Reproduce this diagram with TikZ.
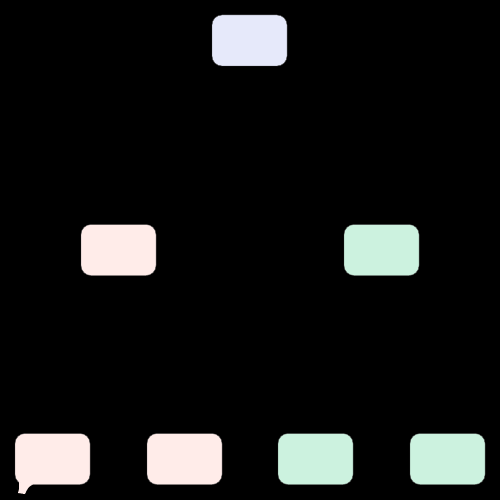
\documentclass[tikz,border=0pt]{standalone}
\definecolor{rootfill}{RGB}{230,233,250}
\definecolor{pinkfill}{RGB}{255,236,233}
\definecolor{greenfill}{RGB}{204,242,223}
\begin{document}
\begin{tikzpicture}[x=1pt,y=-1pt,
  box/.style={rounded corners=10pt, minimum width=75pt, minimum height=51pt, inner sep=0pt, draw=black!70, line width=0.4pt},
  rootc/.style={box, fill=rootfill},
  pinkc/.style={box, fill=pinkfill},
  greenc/.style={box, fill=greenfill}]
\fill[black] (0,0) rectangle (500,500);
\useasboundingbox (0,0) rectangle (500,500);
\node[rootc] (root) at (249.5,40.5) {};
\node[pinkc] (ml) at (118.5,250) {};
\node[greenc] (mr) at (381.5,250) {};
\node[pinkc] (b1) at (52.5,459) {};
\node[pinkc] (b2) at (184.5,459) {};
\node[greenc] (b3) at (315.5,459) {};
\node[greenc] (b4) at (447.5,459) {};
\fill[pinkfill] (19,482) -- (19,489) .. controls (18,491) .. (18,493) -- (25,494) .. controls (27,489) and (29,486) .. (33,484.5) -- cycle;
\end{tikzpicture}
\end{document}
